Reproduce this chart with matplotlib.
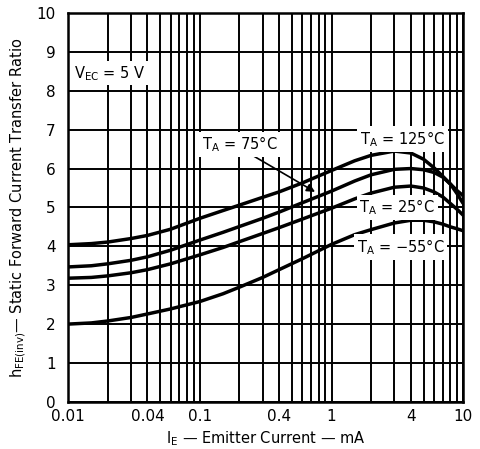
import matplotlib
matplotlib.use('Agg')
import matplotlib.pyplot as plt
import numpy as np

# ── data ──────────────────────────────────────────────────────────────────────
ie_ma = [0.01, 0.015, 0.02, 0.03, 0.04, 0.06, 0.1, 0.15, 0.2, 0.3, 0.4, 0.6,
         1, 1.5, 2, 3, 4, 5, 6, 7, 8, 9, 10]

hfe_125 = [4.04, 4.07, 4.11, 4.20, 4.28, 4.44, 4.72, 4.92, 5.06, 5.26, 5.40, 5.63,
           5.95, 6.20, 6.34, 6.45, 6.40, 6.24, 6.02, 5.80, 5.60, 5.43, 5.30]
hfe_75 = [3.47, 3.50, 3.55, 3.64, 3.73, 3.90, 4.16, 4.36, 4.51, 4.72, 4.88, 5.12,
          5.42, 5.68, 5.84, 5.98, 6.00, 5.97, 5.90, 5.78, 5.60, 5.35, 5.10]
hfe_25 = [3.18, 3.20, 3.24, 3.32, 3.40, 3.55, 3.78, 3.97, 4.12, 4.33, 4.48, 4.70,
          4.98, 5.22, 5.37, 5.52, 5.55, 5.50, 5.40, 5.27, 5.10, 4.95, 4.80]
hfe_m55 = [2.00, 2.03, 2.08, 2.17, 2.26, 2.39, 2.58, 2.78, 2.95, 3.20, 3.40, 3.68,
           4.05, 4.30, 4.43, 4.60, 4.67, 4.67, 4.63, 4.57, 4.50, 4.45, 4.40]

x_grid = [m * 10.0 ** d for d in (-2, -1, 0) for m in range(1, 10)] + [10]
x_labels = {0.01: '0.01', 0.04: '0.04', 0.1: '0.1', 0.4: '0.4', 1: '1', 4: '4', 10: '10'}
y_ticks = list(range(0, 11))

# ── plot ──────────────────────────────────────────────────────────────────────
plt.rcParams['font.family'] = ['DejaVu Sans']

fig = plt.figure(figsize=(4.8, 4.49), dpi=100)
ax = fig.add_axes([0.142, 0.105, 0.823, 0.866])

ax.set_xscale('log')
ax.set_xlim(0.01, 10)
ax.set_ylim(0, 10)

ax.set_xticks(x_grid)
ax.set_xticklabels([next((v for k, v in x_labels.items() if np.isclose(k, x)), '')
                    for x in x_grid])
ax.xaxis.set_minor_locator(matplotlib.ticker.NullLocator())
ax.set_yticks(y_ticks)
ax.tick_params(length=0, labelsize=11)
ax.tick_params(axis='y', pad=9)
ax.tick_params(axis='x', pad=5)
ax.grid(True, color='black', lw=1.4, zorder=0)
ax.set_axisbelow(True)
for s in ax.spines.values():
    s.set_linewidth(1.8)

for series in (hfe_125, hfe_75, hfe_25, hfe_m55):
    ax.plot(ie_ma, series, color='black', lw=2.5, solid_capstyle='butt', zorder=3)

box = dict(facecolor='white', edgecolor='none', pad=2)
txt = dict(fontsize=10.5, ha='center', va='center', zorder=5, bbox=box)
ax.text(0.0208, 8.45, r'V$_{\mathregular{EC}}$ = 5 V', **txt)
ax.text(0.2, 6.62, r'T$_{\mathregular{A}}$ = 75°C', **txt)
ax.text(3.45, 6.76, r'T$_{\mathregular{A}}$ = 125°C', **txt)
ax.text(3.15, 5.0, r'T$_{\mathregular{A}}$ = 25°C', **txt)
ax.text(3.35, 3.98, r'T$_{\mathregular{A}}$ = −55°C', **txt)
ax.annotate('', xy=(0.75, 5.4), xytext=(0.213, 6.48), zorder=4,
            arrowprops=dict(arrowstyle='-|>', color='black', lw=1.2,
                            mutation_scale=12, shrinkA=0, shrinkB=0))

ax.set_xlabel(r'I$_{\mathregular{E}}$ — Emitter Current — mA', fontsize=10.5, labelpad=4)
ax.set_ylabel(r'h$_{\mathregular{FE(inv)}}$— Static Forward Current Transfer Ratio',
              fontsize=10.5, labelpad=6)

fig.savefig('out.png', dpi=100)
